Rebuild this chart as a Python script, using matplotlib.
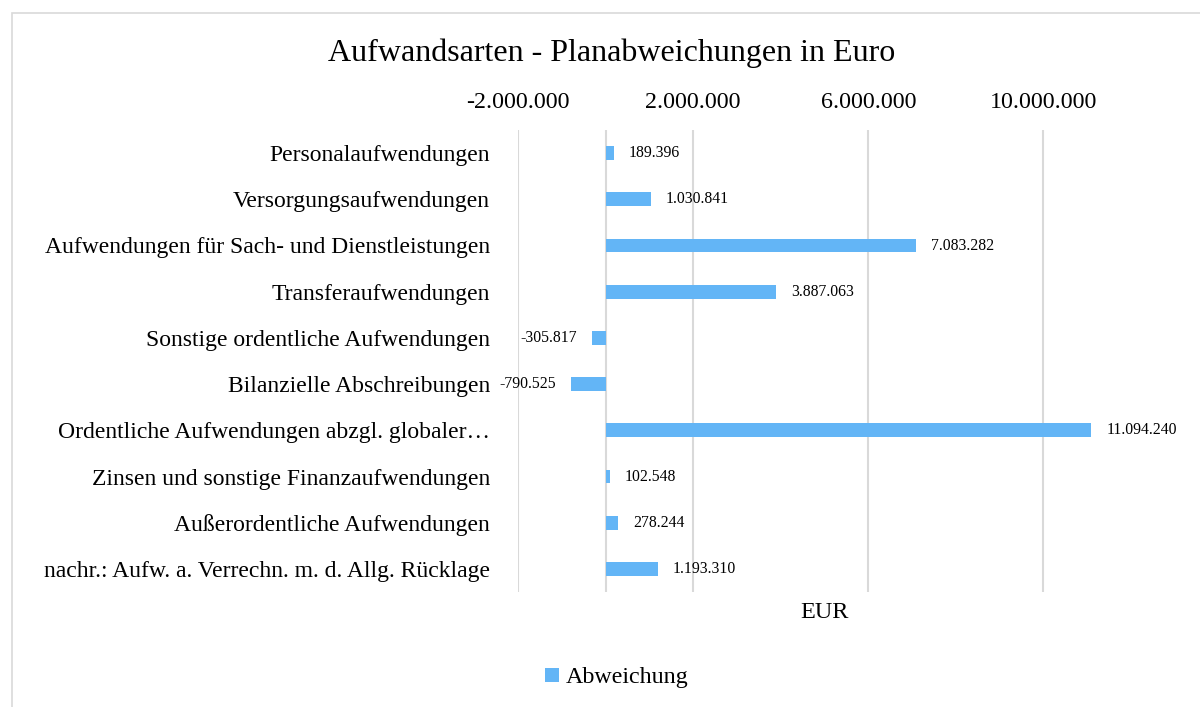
import matplotlib
matplotlib.use("Agg")
import matplotlib.pyplot as plt
from matplotlib.patches import Rectangle
from matplotlib.ticker import FuncFormatter

# data
categories = [
    "Personalaufwendungen",
    "Versorgungsaufwendungen",
    "Aufwendungen für Sach- und Dienstleistungen",
    "Transferaufwendungen",
    "Sonstige ordentliche Aufwendungen",
    "Bilanzielle Abschreibungen",
    "Ordentliche Aufwendungen abzgl. globaler…",
    "Zinsen und sonstige Finanzaufwendungen",
    "Außerordentliche Aufwendungen",
    "nachr.: Aufw. a. Verrechn. m. d. Allg. Rücklage",
]
abweichung = [189396, 1030841, 7083282, 3887063, -305817, -790525,
              11094240, 102548, 278244, 1193310]
x_ticks = [-2000000, 2000000, 6000000, 10000000]

BAR = "#63B5F6"
GRID = "#D9D9D9"

plt.rcParams["font.family"] = ["Liberation Serif", "DejaVu Serif"]


def de_fmt(v, pos=None):
    s = f"{abs(int(round(v))):,}".replace(",", ".")
    return ("-" if v < 0 else "") + s


fig = plt.figure(figsize=(12, 7.07), dpi=100)
# light outer frame of the chart area
fig.patches.append(Rectangle((12 / 1200, -0.1), 1.2, 1 - 13 / 707 + 0.1,
                             transform=fig.transFigure, fill=False,
                             edgecolor=GRID, lw=1.2))

ax = fig.add_axes([518 / 1200, 1 - 592 / 707, 613 / 1200, 462 / 707])
ypos = list(range(len(categories)))
ax.barh(ypos, abweichung, height=0.3, color=BAR, zorder=3,
        label="Abweichung")
ax.set_ylim(len(categories) - 0.5, -0.5)
ax.set_xlim(-2000000, 12000000)

ax.set_xticks(x_ticks)
ax.xaxis.set_major_formatter(FuncFormatter(de_fmt))
ax.xaxis.tick_top()
ax.tick_params(axis="x", length=0, labelsize=17.3, pad=12)
ax.set_yticks(ypos)
ax.set_yticklabels(categories, fontsize=17)
ax.tick_params(axis="y", length=0, pad=20)

for xv in x_ticks:
    ax.axvline(xv, color=GRID, lw=1.5, zorder=1)
ax.axvline(0, color=GRID, lw=1.5, zorder=2)
for s in ax.spines.values():
    s.set_visible(False)

for y, v in zip(ypos, abweichung):
    off = 15 if v >= 0 else -15
    ax.annotate(de_fmt(v), (v, y), xytext=(off, 0), textcoords="offset pixels",
                ha="left" if v >= 0 else "right", va="center", fontsize=11.3)

ax.set_xlabel("EUR", fontsize=17.5, labelpad=7)
ax.xaxis.set_label_position("bottom")

fig.text(612 / 1200, 1 - 53 / 707, "Aufwandsarten - Planabweichungen in Euro",
         ha="center", va="center", fontsize=23)

fig.legend(loc="center", bbox_to_anchor=(617 / 1200, 1 - 678 / 707),
           frameon=False, fontsize=17.3, handlelength=0.55, handleheight=0.55,
           handletextpad=0.3)

fig.savefig("out.png", dpi=100)
